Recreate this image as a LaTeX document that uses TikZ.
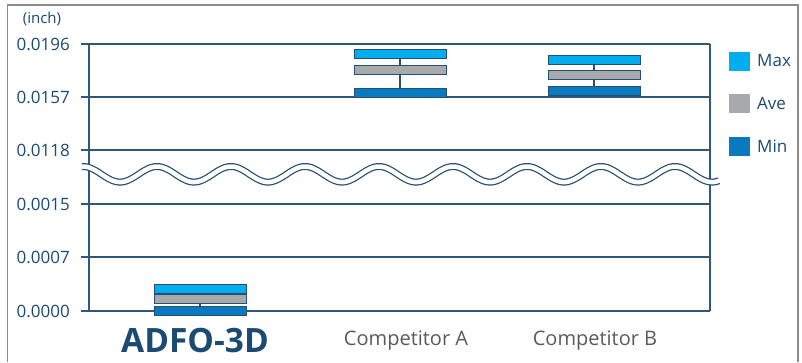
\documentclass[tikz,border=0pt]{standalone}
\usepackage{fontspec}
\setmainfont{Open Sans}
\definecolor{lbl}{HTML}{1B4A72}
\definecolor{grid}{HTML}{2F5879}
\definecolor{cmax}{HTML}{00AEEF}
\definecolor{cave}{HTML}{A7A9AC}
\definecolor{cmin}{HTML}{0A7AC0}
\definecolor{edge}{HTML}{264F73}
\definecolor{frame}{HTML}{8C8C8C}
\definecolor{cat}{HTML}{5A5A5A}
\tikzset{
  gridline/.style={draw=grid, line width=1.2},
  ylab/.style={anchor=east, text=lbl, font=\fontsize{17}{20}\selectfont, inner sep=0},
  barbox/.style={draw=edge, line width=0.9, minimum width=92, minimum height=9, inner sep=0},
  whisk/.style={draw=edge, line width=2.2},
  legbox/.style={minimum width=21, minimum height=19, inner sep=0},
  legtxt/.style={anchor=west, text=lbl, font=\fontsize{17}{20}\selectfont, inner sep=0},
  cattxt/.style={text=cat, font=\fontsize{20}{24}\selectfont, inner sep=0},
}
\begin{document}
\begin{tikzpicture}[x=1pt,y=-1pt]
\useasboundingbox (0,0) rectangle (802,362);
% outer frame
\draw[frame, line width=1.5] (7.5,362) -- (7.5,5) -- (798,5) -- (798,362);
% grid lines and labels
\foreach \yy/\tt/\nn in {44/0.0196/a,97/0.0157/b,150/0.0118/c,204/0.0015/d,257/0.0007/e,311/0.0000/f}{
  \coordinate (gl\nn) at (81,\yy);
  \coordinate (gr\nn) at (710,\yy);
  \draw[gridline] (gl\nn) -- (gr\nn);
  \node[ylab] (lab\nn) at (70,\yy) {\tt};
}
\coordinate (axtop) at (89,44);
\coordinate (axbot) at (89,311);
\coordinate (rtop) at (710,44);
\coordinate (rbot) at (710,311);
\draw[gridline] (axtop) -- (axbot);
\draw[gridline] (rtop) -- (rbot);
\node[text=lbl, font=\fontsize{15}{18}\selectfont, inner sep=0] (unit) at (42,19) {(inch)};
% break wave
\draw[edge, line width=7] plot[domain=82:719, samples=300, smooth] (\x,{174.3-7.8*cos(((\x-83)/74)*360)});
\draw[white, line width=4.5] plot[domain=81:720, samples=300, smooth] (\x,{174.3-7.8*cos(((\x-83)/74)*360)});
% ADFO-3D
\node[barbox, fill=cmax] (amax) at (200,288.5) {};
\node[barbox, fill=cave] (aave) at (200,298.5) {};
\node[barbox, fill=cmin] (amin) at (200,311) {};
\draw[whisk] (amax.south) -- (aave.north);
\draw[whisk] (aave.south) -- (amin.north);
% Competitor A
\node[barbox, fill=cmax] (bmax) at (400,53.5) {};
\node[barbox, fill=cave] (bave) at (400,70) {};
\node[barbox, fill=cmin] (bmin) at (400,93) {};
\draw[whisk] (bmax.south) -- (bave.north);
\draw[whisk] (bave.south) -- (bmin.north);
% Competitor B
\node[barbox, fill=cmax] (cmx) at (594,60) {};
\node[barbox, fill=cave] (cav) at (594,75) {};
\node[barbox, fill=cmin] (cmn) at (594,91) {};
\draw[whisk] (cmx.south) -- (cav.north);
\draw[whisk] (cav.south) -- (cmn.north);
% legend
\node[legbox, fill=cmax] (lmax) at (739.5,61) {};
\node[legtxt] (tmax) at (757,61) {Max};
\node[legbox, fill=cave] (lave) at (739.5,103) {};
\node[legtxt] (tave) at (757,103) {Ave};
\node[legbox, fill=cmin] (lmin) at (739.5,146.5) {};
\node[legtxt] (tmin) at (757,146.5) {Min};
% category labels
\node[text=lbl, font=\bfseries\fontsize{33.5}{38}\selectfont, inner sep=0] (catA) at (195,341) {ADFO-3D};
\node[cattxt] (catB) at (406,341) {Competitor A};
\node[cattxt] (catC) at (595,341) {Competitor B};
\end{tikzpicture}
\end{document}
